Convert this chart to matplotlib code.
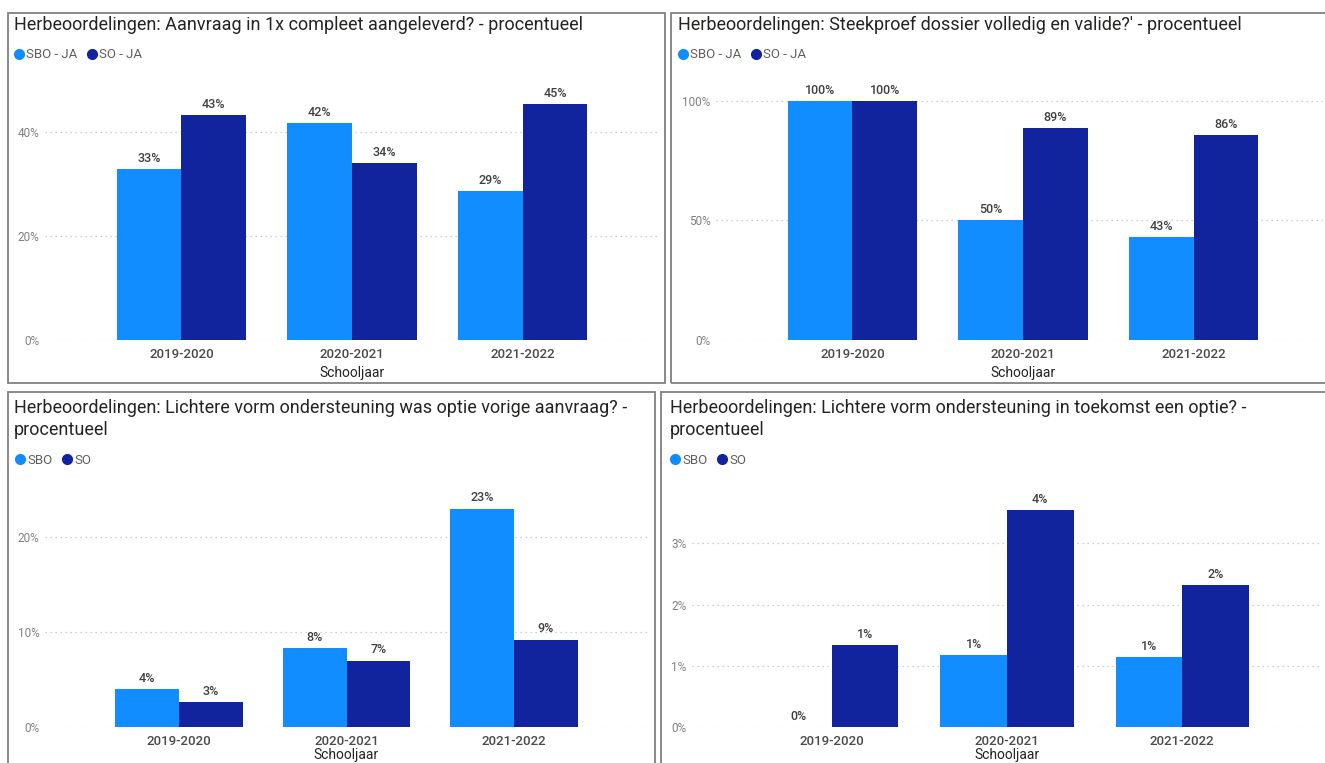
import numpy as np
import matplotlib.pyplot as plt
from matplotlib.lines import Line2D
from matplotlib.patches import Rectangle

plt.rcParams['font.family'] = ['Roboto', 'DejaVu Sans']

# Schooljaren (x-as)
schooljaren = ['2019-2020', '2020-2021', '2021-2022']

# Aanvraag in 1x compleet aangeleverd (%)
compleet_sbo = [32.9, 41.7, 28.7]
compleet_so = [43.3, 34.0, 45.4]

# Steekproef dossier volledig en valide (%)
steekproef_sbo = [100, 50, 42.9]
steekproef_so = [100, 88.7, 85.7]

# Lichtere vorm ondersteuning was optie vorige aanvraag (%)
vorige_sbo = [4.0, 8.3, 23.0]
vorige_so = [2.6, 7.0, 9.2]

# Lichtere vorm ondersteuning in toekomst een optie (%)
toekomst_sbo = [0, 1.17, 1.14]
toekomst_so = [1.34, 3.54, 2.32]

titels = [
    "Herbeoordelingen: Aanvraag in 1x compleet aangeleverd? - procentueel",
    "Herbeoordelingen: Steekproef dossier volledig en valide?' - procentueel",
    "Herbeoordelingen: Lichtere vorm ondersteuning was optie vorige aanvraag? -\nprocentueel",
    "Herbeoordelingen: Lichtere vorm ondersteuning in toekomst een optie? -\nprocentueel",
]
legenda = [
    ['SBO - JA', 'SO - JA'],
    ['SBO - JA', 'SO - JA'],
    ['SBO', 'SO'],
    ['SBO', 'SO'],
]
y_ticks = [[0, 20, 40], [0, 50, 100], [0, 10, 20], [0, 1, 2, 3]]
y_max = [50, 107.1, 26, 4.0]

SBO_KLEUR = '#118DFF'
SO_KLEUR = '#12239E'
TEKST = '#252423'
GRIJS = '#605E5C'

W, H = 1325, 763
fig = plt.figure(figsize=(W / 100, H / 100), dpi=100)


def px_box(x0, y0, x1, y1):
    # pixel box (links-boven oorsprong) -> figuur coordinaten
    return [x0 / W, 1 - y1 / H, (x1 - x0) / W, (y1 - y0) / H]


# layout per paneel: rand, titel, legenda, assen (in pixels)
randen = [(8, 13, 665, 383), (671, 13, 1330, 383), (8, 392, 655, 770), (661, 392, 1330, 770)]
titel_pos = [(14, 16), (678, 16), (14, 399), (670, 399)]
legenda_pos = [(15, 55), (679, 55), (16, 460), (671, 460)]
assen = [(45, 80, 659, 340), (716, 84, 1330, 340), (45, 480, 648, 727), (692, 482, 1322, 727)]
xlabel_pad = [3, 3, 0, 0]

data = [
    (compleet_sbo, compleet_so),
    (steekproef_sbo, steekproef_so),
    (vorige_sbo, vorige_so),
    (toekomst_sbo, toekomst_so),
]

breedte = 0.38
x = np.arange(len(schooljaren))

for i, (sbo, so) in enumerate(data):
    # paneelrand
    r = randen[i]
    fig.patches.append(Rectangle((r[0] / W, 1 - r[3] / H), (r[2] - r[0]) / W, (r[3] - r[1]) / H,
                                 transform=fig.transFigure, fill=False, edgecolor='#808080', linewidth=1.3))
    fig.text(titel_pos[i][0] / W, 1 - titel_pos[i][1] / H, titels[i], ha='left', va='top',
             fontsize=13, color=TEKST, linespacing=1.3)

    ax = fig.add_axes(px_box(*assen[i]))
    b1 = ax.bar(x - breedte / 2, sbo, breedte, color=SBO_KLEUR)
    b2 = ax.bar(x + breedte / 2, so, breedte, color=SO_KLEUR)
    for b in (b1, b2):
        ax.bar_label(b, labels=[f'{v:.0f}%' for v in b.datavalues], padding=3,
                     fontsize=9, color='#404040', fontweight='medium')

    ax.set_xlim(-0.8, 2.8)
    ax.set_ylim(0, y_max[i])
    ax.set_yticks(y_ticks[i])
    ax.set_yticklabels([f'{t}%' for t in y_ticks[i]])
    ax.set_xticks(x)
    ax.set_xticklabels(schooljaren, fontsize=9.5, color='#4a4a4a', fontweight='medium')
    ax.set_xlabel('Schooljaar', fontsize=10, color=TEKST, labelpad=xlabel_pad[i])
    ax.tick_params(axis='y', length=0, labelsize=8.5, labelcolor='#808080', pad=4)
    ax.tick_params(axis='x', length=0, pad=6)
    ax.grid(axis='y', linestyle=(0, (1, 3)), color='#c0c0c0', linewidth=0.9)
    ax.set_axisbelow(True)
    for s in ax.spines.values():
        s.set_visible(False)

    handles = [Line2D([], [], marker='o', linestyle='', color=c, markersize=7)
               for c in (SBO_KLEUR, SO_KLEUR)]
    ax.legend(handles, legenda[i], loc='center left',
              bbox_to_anchor=(legenda_pos[i][0] / W, 1 - legenda_pos[i][1] / H),
              bbox_transform=fig.transFigure, ncol=2, frameon=False, fontsize=9.5,
              labelcolor=GRIJS, handlelength=0.6, handletextpad=0.25, columnspacing=0.8,
              borderpad=0, borderaxespad=0)

fig.savefig('out.png', dpi=100)
